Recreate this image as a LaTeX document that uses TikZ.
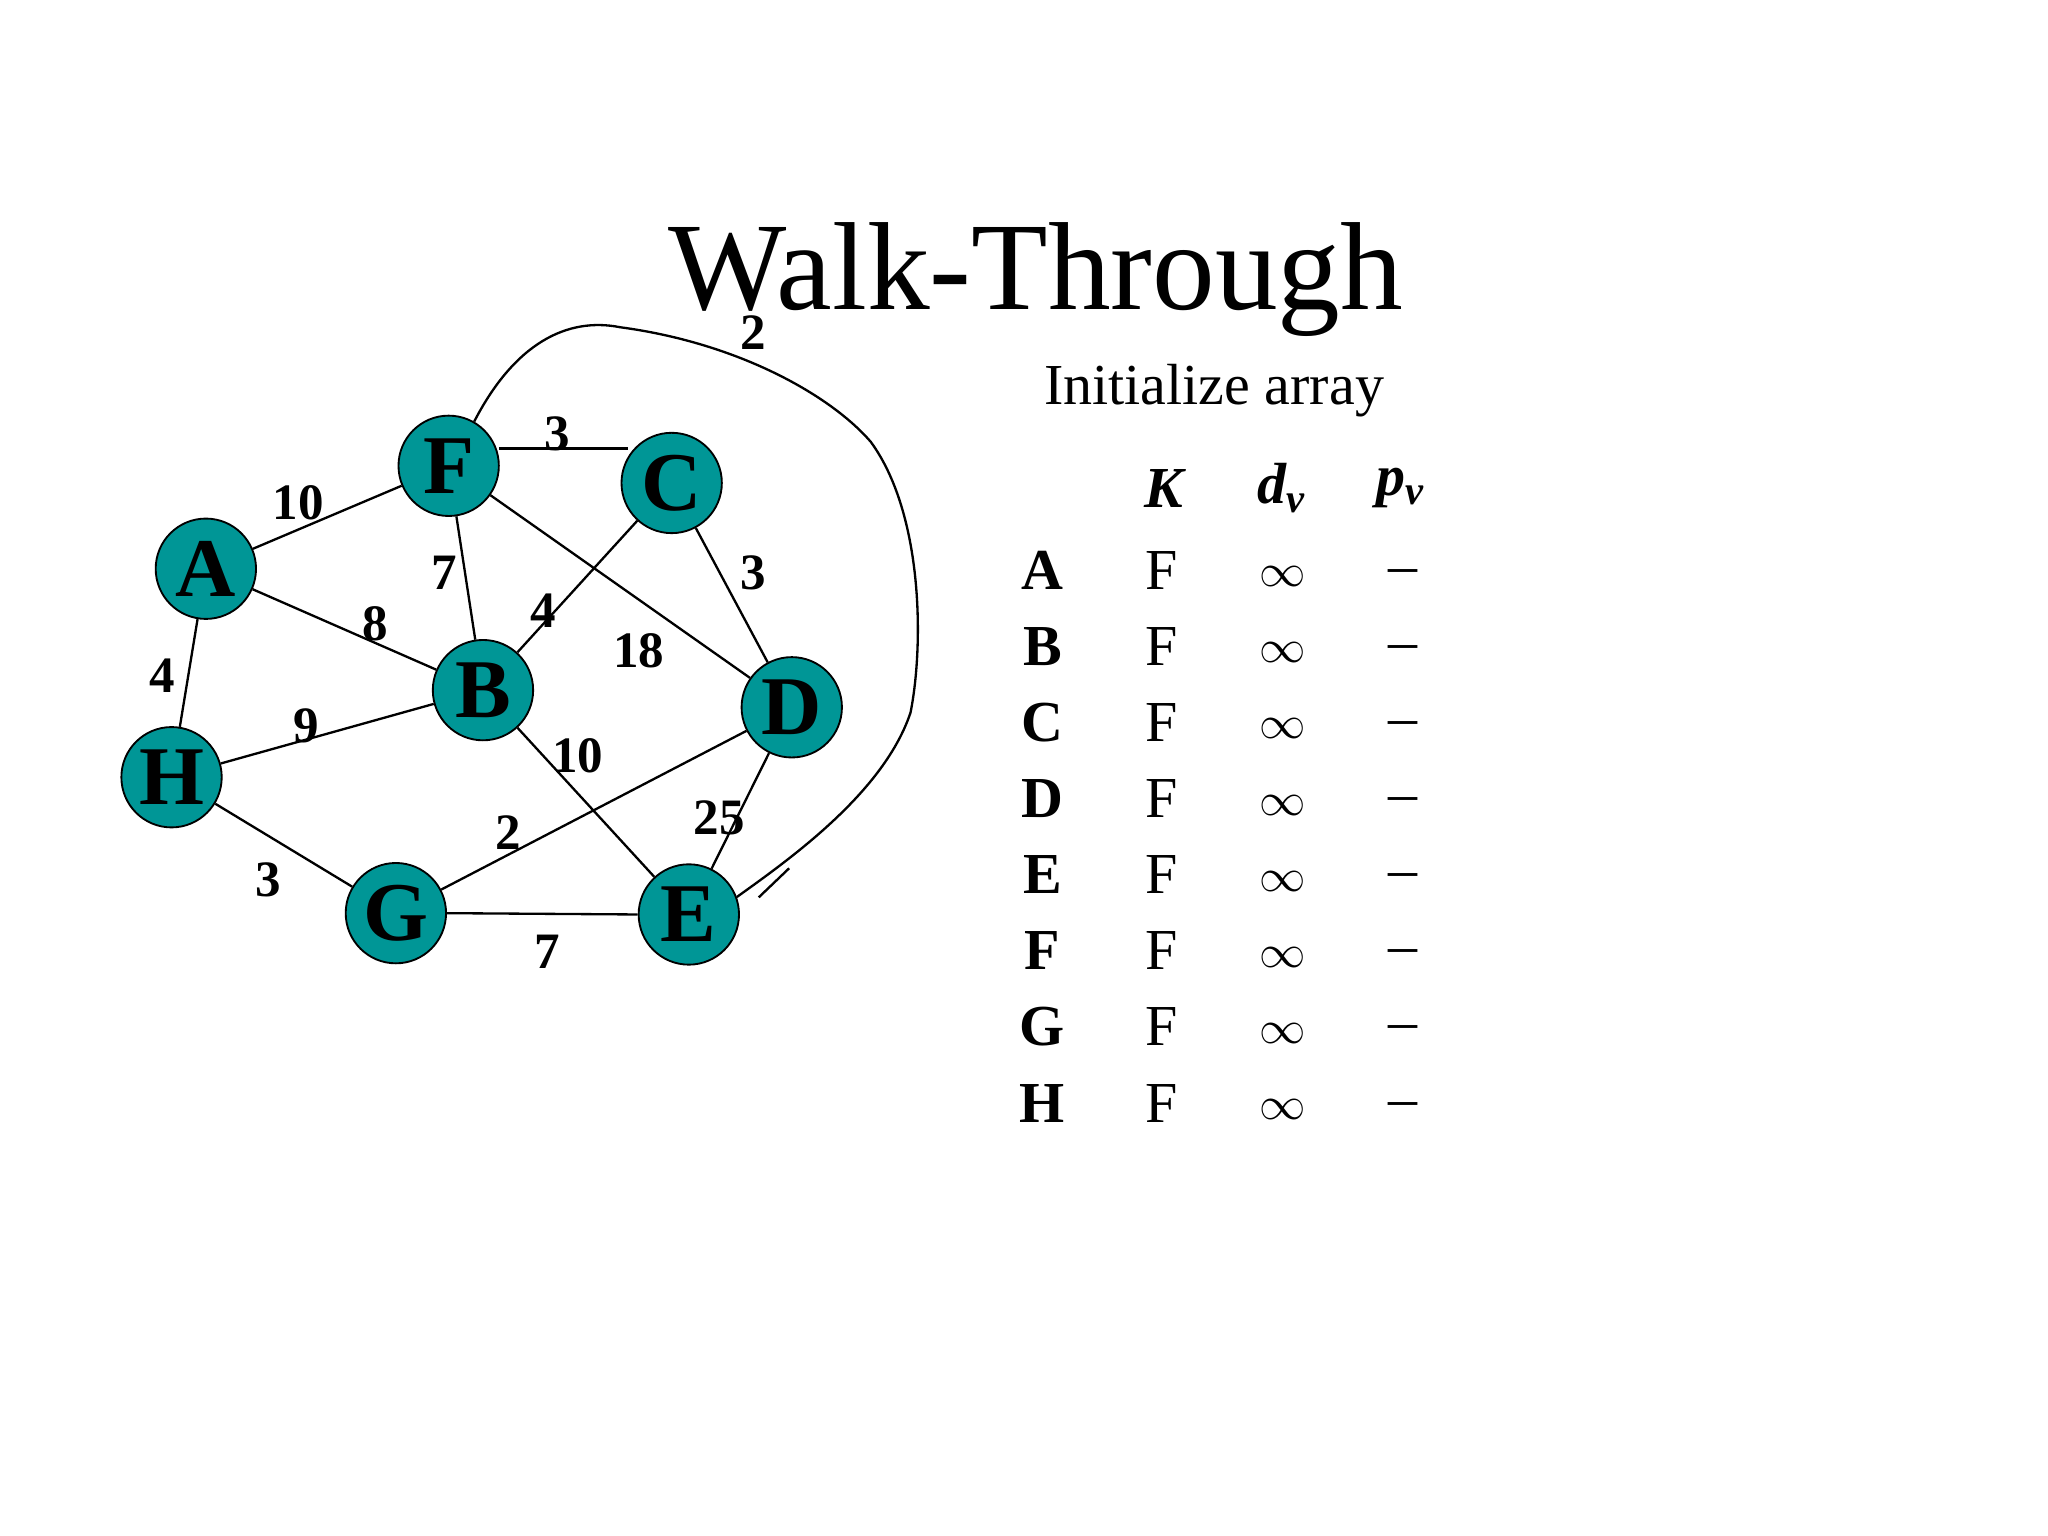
\documentclass[tikz,border=0pt]{standalone}
\usepackage{fontspec}
\setmainfont{Liberation Serif}
\begin{document}
\begin{tikzpicture}[x=0.01cm,y=-0.01cm]
\tikzset{vert/.style={circle,draw=black,fill={rgb,255:red,0;green,150;blue,150},minimum size=0.76cm,inner sep=0pt,font=\fontsize{18}{19}\selectfont\bfseries},
wl/.style={font=\fontsize{11}{12}\selectfont\bfseries,inner sep=1pt},
edge/.style={draw=black,line width=0.5pt},
tx/.style={font=\fontsize{12.5}{13}\selectfont,inner sep=0pt}}
\useasboundingbox (0,0) rectangle (1552,1164);
\node[font=\fontsize{27}{28}\selectfont] (title) at (785,212) {Walk-Through};
\node[tx] (sub) at (920,296) {Initialize array};
\node (F) [vert] at (340,353) {F};
\node (C) [vert] at (509,366) {C};
\node (A) [vert] at (156,431) {A};
\node (B) [vert] at (366,523) {B};
\node (D) [vert] at (600,536) {D};
\node (H) [vert] at (130,589) {H};
\node (G) [vert] at (300,692) {G};
\node (E) [vert] at (522,693) {E};
\coordinate (fc1) at (378,340); \coordinate (fc2) at (476,340);
\draw[edge] (fc1) -- (fc2);
\draw[edge] (A) -- (F); \draw[edge] (A) -- (B); \draw[edge] (F) -- (B);
\draw[edge] (C) -- (B); \draw[edge] (F) -- (D); \draw[edge] (C) -- (D);
\draw[edge] (A) -- (H); \draw[edge] (H) -- (B); \draw[edge] (B) -- (E);
\draw[edge] (G) -- (D); \draw[edge] (D) -- (E); \draw[edge] (H) -- (G);
\draw[edge] (G.east) -- (E.west);
\draw[edge] (F.60) .. controls (390,260) and (430,240) .. (470,248)
 .. controls (560,260) and (630,300) .. (660,335)
 .. controls (700,390) and (700,490) .. (690,540)
 .. controls (670,600) and (600,650) .. (E.20);
\coordinate (t1) at (575,680); \coordinate (t2) at (598,658);
\draw[edge] (t1) -- (t2);
\node[wl] at (226,381) {10}; \node[wl] at (422,329) {3};
\node[wl] at (337,434) {7}; \node[wl] at (284,473) {8};
\node[wl] at (412,463) {4}; \node[wl] at (571,434) {3};
\node[wl] at (484,493) {18}; \node[wl] at (123,512) {4};
\node[wl] at (232,550) {9}; \node[wl] at (438,573) {10};
\node[wl] at (385,631) {2}; \node[wl] at (545,620) {25};
\node[wl] at (203,667) {3}; \node[wl] at (415,721) {7};
\node[wl] at (571,252) {2};
\node[tx,font=\fontsize{12.5}{13}\selectfont\bfseries\itshape] at (882,370) {K};
\node[tx,font=\fontsize{12.5}{13}\selectfont\bfseries\itshape] at (972,370) {d\textsubscript{v}};
\node[tx,font=\fontsize{12.5}{13}\selectfont\bfseries\itshape] at (1062,370) {p\textsubscript{v}};
\foreach \l [count=\i from 0] in {A,B,C,D,E,F,G,H}{
 \node[tx,font=\fontsize{12.5}{13}\selectfont\bfseries] (r\l) at (790,432+57.7*\i) {\l};
 \node[tx] (k\l) at (880,432+57.7*\i) {F};
 \node[tx,font=\fontsize{10}{11}\selectfont] (d\l) at (972,437+57.7*\i) {$\infty$};
 \node[tx] (p\l) at (1063,437+57.7*\i) {–};
}
\end{tikzpicture}
\end{document}
